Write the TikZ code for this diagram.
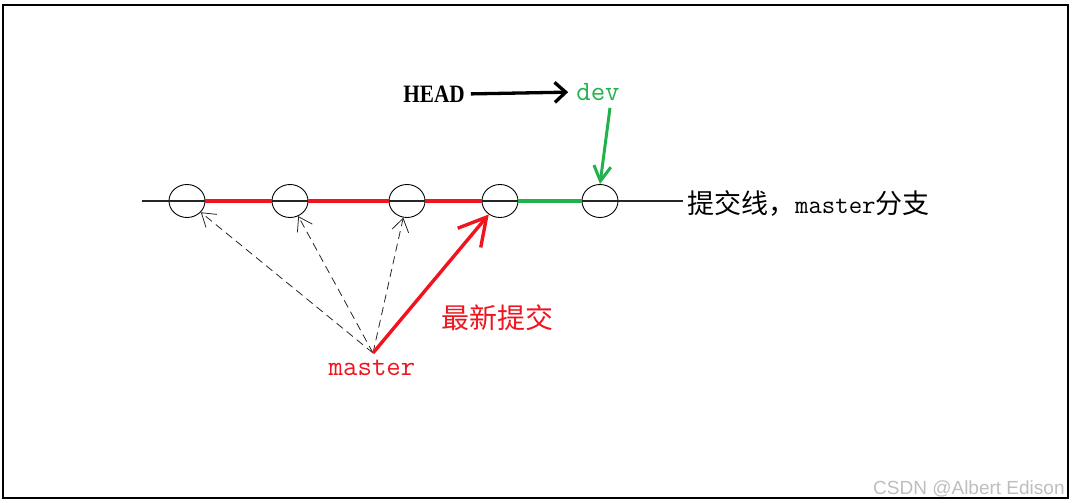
\documentclass[tikz,border=0pt]{standalone}
\usepackage{graphicx}
\usepackage{fontspec}
\newfontfamily\cjk{Noto Sans CJK SC}
\newfontfamily\tms{Liberation Serif}
\newfontfamily\arial{Liberation Sans}
\usetikzlibrary{arrows.meta,shapes.geometric,calc}
\definecolor{pred}{RGB}{240,20,30}
\definecolor{pgreen}{RGB}{34,177,76}
\definecolor{wmgray}{RGB}{190,190,190}
\begin{document}
\begin{tikzpicture}[x=1pt,y=-1pt,
  commit/.style={ellipse,draw=black,line width=0.9pt,minimum width=36pt,minimum height=33pt,inner sep=0pt},
  axis/.style={draw=black!85,line width=1.1pt},
  redseg/.style={draw=pred,line width=3.2pt},
  greenseg/.style={draw=pgreen,line width=3.2pt},
  ptr/.style={draw=black!85,line width=0.8pt,dash pattern=on 8pt off 5pt,-{Straight Barb[length=13pt,width=17pt,line width=0.8pt]}},
  headarrow/.style={draw=black,line width=3.3pt,-{Straight Barb[length=11pt,width=20pt]}},
  devarrow/.style={draw=pgreen,line width=3pt,-{Straight Barb[length=15pt,width=17pt]}},
  newarrow/.style={draw=pred,line width=3.4pt,-{Straight Barb[length=27pt,width=30pt]}},
  lbl/.style={inner sep=0pt}
]
\useasboundingbox (0,0) rectangle (1073,503);

% commits
\node[commit] (c1) at (187,201) {};
\node[commit] (c2) at (290,201) {};
\node[commit] (c3) at (407,201) {};
\node[commit] (c4) at (500,201) {};
\node[commit] (c5) at (600,201) {};

% line label
\node[lbl,anchor=west] (line) at (687,203) {{\fontsize{27}{30}\selectfont\cjk 提交线，}{\fontsize{26}{30}\selectfont\ttfamily master}{\fontsize{27}{30}\selectfont\cjk 分支}};

\coordinate (L) at (142,201);
\draw[axis] (L) -- ($(line.west)+(-4,-2)$);

\draw[redseg] (c1.east) -- (c2.west);
\draw[redseg] (c2.east) -- (c3.west);
\draw[redseg] (c3.east) -- (c4.west);
\draw[greenseg] (c4.east) -- (c5.west);

% HEAD and dev
\node[lbl] (head) at (434,94) {\scalebox{0.85}[1]{\fontsize{25}{28}\selectfont\tms\bfseries HEAD}};
\node[lbl,text=pgreen] (dev) at (598,92) {\fontsize{28}{30}\selectfont\ttfamily dev};
\draw[headarrow,shorten <=6pt,shorten >=8pt] (head.east) -- (dev.west);
\draw[devarrow] ($(dev.south)+(12,7)$) -- (c5.north);

% master
\node[lbl,anchor=base,text=pred] (master) at (372,375) {\fontsize{28}{30}\selectfont\ttfamily master};
\coordinate (apex) at (373,353);
\draw[ptr] (apex) -- (c1);
\draw[ptr] (apex) -- (c2);
\draw[ptr] (apex) -- (c3);
\draw[newarrow] (apex) -- (c4);
\node[lbl,text=pred] (newest) at (497,318) {\fontsize{28}{30}\selectfont\cjk 最新提交};

% watermark
\node[lbl,anchor=base west,text=wmgray] (wm) at (873,494) {\fontsize{19}{22}\selectfont\arial CSDN @Albert Edison};

% frame
\draw[black,line width=1.6pt] (3,5) rectangle (1068,498);
\end{tikzpicture}
\end{document}
